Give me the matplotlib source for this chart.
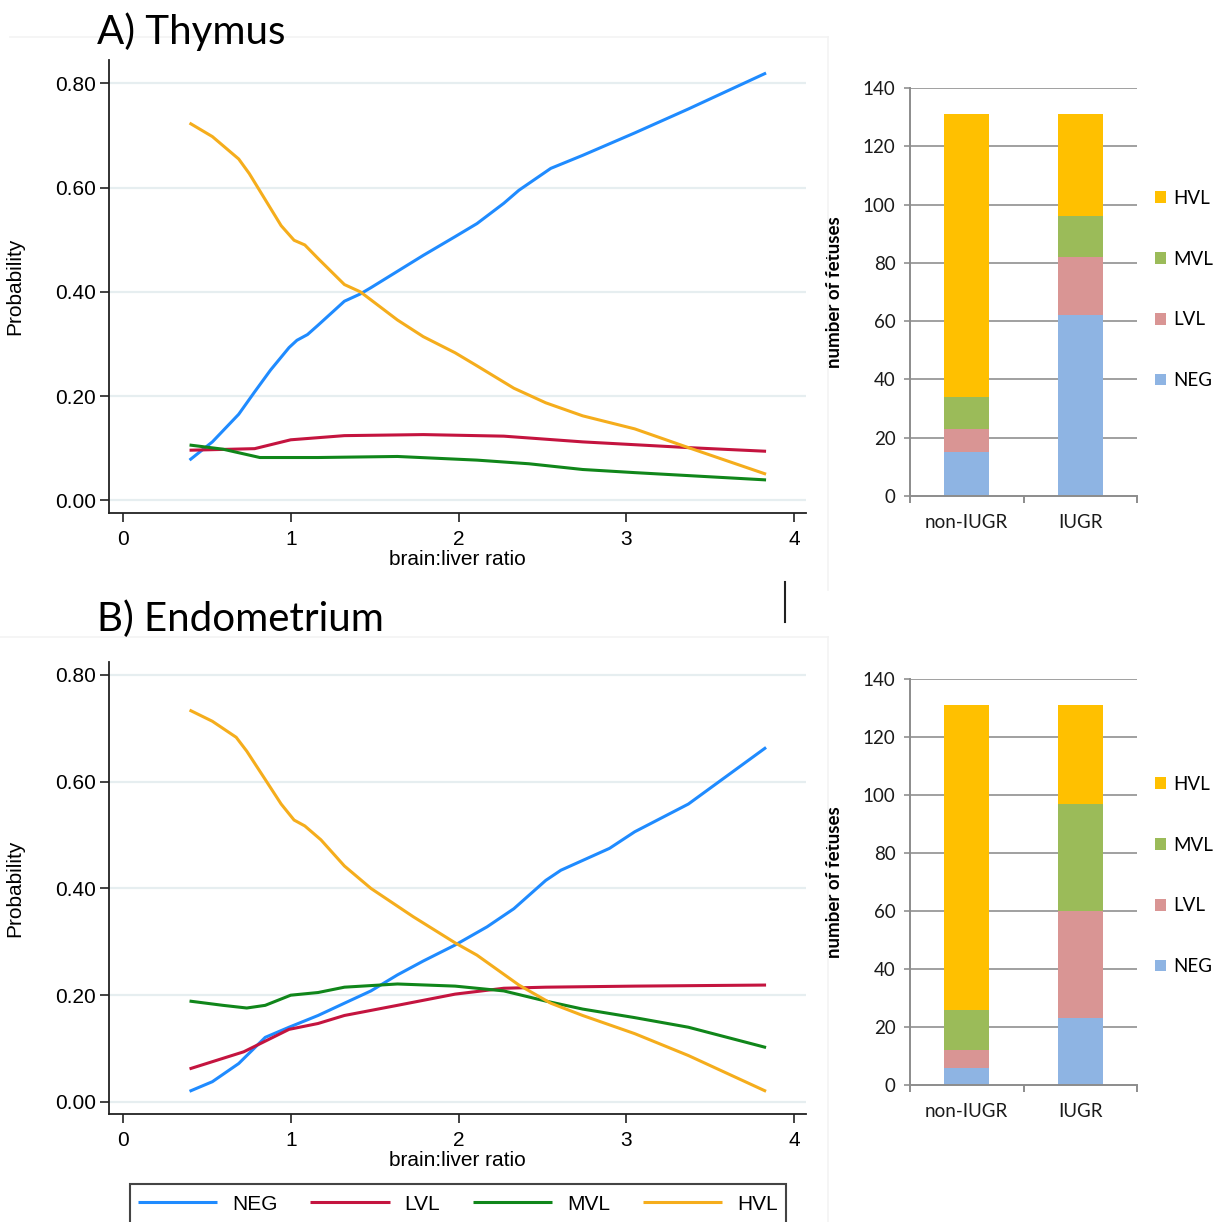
import matplotlib
matplotlib.use("Agg")
import matplotlib.pyplot as plt
from matplotlib import font_manager
from matplotlib.patches import Rectangle
from matplotlib.lines import Line2D

# ---------------- data ----------------
# Thymus predicted probabilities vs brain:liver ratio
thy_neg_x = [0.397, 0.533, 0.69, 0.785, 0.88, 0.99, 1.037, 1.10, 1.163, 1.32, 1.415, 1.478, 1.79, 1.98, 2.11, 2.27, 2.36, 2.55, 2.74, 3.05, 3.37, 3.833]
thy_neg_y = [0.077, 0.112, 0.165, 0.208, 0.25, 0.293, 0.307, 0.318, 0.336, 0.382, 0.396, 0.408, 0.47, 0.506, 0.531, 0.57, 0.595, 0.637, 0.662, 0.705, 0.751, 0.82]
thy_hvl_x = [0.397, 0.533, 0.69, 0.753, 0.848, 0.943, 1.02, 1.084, 1.163, 1.32, 1.415, 1.636, 1.79, 1.98, 2.11, 2.33, 2.52, 2.74, 3.05, 3.37, 3.833]
thy_hvl_y = [0.724, 0.698, 0.655, 0.627, 0.577, 0.527, 0.499, 0.49, 0.464, 0.414, 0.40, 0.346, 0.314, 0.283, 0.258, 0.215, 0.187, 0.162, 0.137, 0.101, 0.05]
thy_lvl_x = [0.397, 0.785, 1.0, 1.32, 1.79, 2.27, 2.74, 3.37, 3.833]
thy_lvl_y = [0.096, 0.099, 0.116, 0.124, 0.126, 0.123, 0.112, 0.101, 0.094]
thy_mvl_x = [0.397, 0.596, 0.816, 1.163, 1.636, 2.11, 2.42, 2.74, 3.05, 3.833]
thy_mvl_y = [0.106, 0.098, 0.082, 0.082, 0.084, 0.077, 0.070, 0.059, 0.053, 0.039]

# Endometrium predicted probabilities vs brain:liver ratio
end_neg_x = [0.397, 0.533, 0.69, 0.848, 0.99, 1.163, 1.32, 1.478, 1.636, 1.79, 1.98, 2.17, 2.33, 2.52, 2.61, 2.90, 3.05, 3.37, 3.833]
end_neg_y = [0.020, 0.038, 0.072, 0.121, 0.140, 0.162, 0.185, 0.208, 0.238, 0.264, 0.294, 0.328, 0.362, 0.415, 0.434, 0.475, 0.506, 0.558, 0.664]
end_hvl_x = [0.397, 0.533, 0.675, 0.738, 0.848, 0.943, 1.02, 1.084, 1.18, 1.32, 1.478, 1.73, 1.98, 2.11, 2.36, 2.55, 2.74, 3.05, 3.37, 3.833]
end_hvl_y = [0.734, 0.713, 0.683, 0.657, 0.604, 0.558, 0.528, 0.517, 0.491, 0.442, 0.40, 0.347, 0.298, 0.275, 0.219, 0.185, 0.162, 0.128, 0.087, 0.020]
end_lvl_x = [0.397, 0.72, 0.99, 1.163, 1.32, 1.636, 1.98, 2.27, 2.52, 3.05, 3.833]
end_lvl_y = [0.062, 0.094, 0.136, 0.147, 0.162, 0.181, 0.202, 0.213, 0.215, 0.217, 0.219]
end_mvl_x = [0.397, 0.596, 0.738, 0.848, 1.0, 1.163, 1.32, 1.636, 1.98, 2.27, 2.52, 2.74, 3.05, 3.37, 3.833]
end_mvl_y = [0.189, 0.181, 0.176, 0.181, 0.20, 0.205, 0.215, 0.221, 0.217, 0.208, 0.189, 0.174, 0.158, 0.140, 0.102]

# Bar chart counts
groups = ["non-IUGR", "IUGR"]
levels = ["NEG", "LVL", "MVL", "HVL"]
thy_counts = {"NEG": [15, 62], "LVL": [8, 20], "MVL": [11, 14], "HVL": [97, 35]}
end_counts = {"NEG": [6, 23], "LVL": [6, 37], "MVL": [14, 37], "HVL": [105, 34]}

yticks_prob = [0.0, 0.2, 0.4, 0.6, 0.8]
ytick_prob_labels = ["0.00", "0.20", "0.40", "0.60", "0.80"]
xticks_ratio = [0, 1, 2, 3, 4]
yticks_count = [0, 20, 40, 60, 80, 100, 120, 140]

# ---------------- styles ----------------
line_colors = {"NEG": "#1f8bff", "LVL": "#c4143f", "MVL": "#10861a", "HVL": "#f5ad1c"}
bar_colors = {"NEG": "#8eb4e3", "LVL": "#d99594", "MVL": "#9bbb59", "HVL": "#ffc000"}

avail = {f.name for f in font_manager.fontManager.ttflist}
narrow = "Liberation Sans Narrow" if "Liberation Sans Narrow" in avail else "Liberation Sans"
sans = "Liberation Sans" if "Liberation Sans" in avail else "DejaVu Sans"
cal = "Lato" if "Lato" in avail else "DejaVu Sans"

W, H = 1213, 1222
fig = plt.figure(figsize=(W / 100, H / 100), dpi=100)


def box(l, t, r, b):
    return [l / W, 1 - b / H, (r - l) / W, (b - t) / H]


def line_panel(rect, data, ylim):
    ax = fig.add_axes(rect)
    ax.set_xlim(-0.083, 4.071)
    ax.set_ylim(*ylim)
    for y in yticks_prob:
        ax.axhline(y, color="#e6eef0", lw=1.6, zorder=0)
    for key in ["NEG", "LVL", "MVL", "HVL"]:
        xs, ys = data[key]
        ax.plot(xs, ys, color=line_colors[key], lw=2.2, label=key, solid_capstyle="butt",
                solid_joinstyle="round")
    for s in ["top", "right"]:
        ax.spines[s].set_visible(False)
    for s in ["left", "bottom"]:
        ax.spines[s].set_linewidth(1.3)
        ax.spines[s].set_color("#222222")
    ax.set_yticks(yticks_prob)
    ax.set_yticklabels(ytick_prob_labels, fontfamily=narrow, fontsize=15)
    ax.set_xticks(xticks_ratio)
    ax.set_xticklabels([str(v) for v in xticks_ratio], fontfamily=narrow, fontsize=15)
    ax.tick_params(axis="y", direction="out", length=6.5, width=1.2, color="#222222", pad=3)
    ax.tick_params(axis="x", direction="out", length=6.5, width=1.2, color="#222222", pad=6)
    ax.set_xlabel("brain:liver ratio", fontfamily=narrow, fontsize=15)
    ax.xaxis.set_label_coords(0.5, -0.082)
    ax.set_ylabel("Probability", fontfamily=sans, fontsize=15)
    ax.yaxis.set_label_coords(-0.122, 0.5)
    return ax


def bar_panel(rect, counts, leg_top):
    ax = fig.add_axes(rect)
    ax.set_xlim(-0.5, 1.5)
    ax.set_ylim(0, 140)
    for y in yticks_count[1:]:
        ax.axhline(y, color="#a0a0a0", lw=1.4, zorder=0)
    bottoms = [0, 0]
    handles = []
    for key in levels:
        vals = counts[key]
        b = ax.bar([0, 1], vals, width=0.4, bottom=bottoms, color=bar_colors[key],
                   label=key, zorder=2, linewidth=0)
        handles.append(b)
        bottoms = [bottoms[i] + vals[i] for i in range(2)]
    for s in ["top", "right"]:
        ax.spines[s].set_visible(False)
    for s in ["left", "bottom"]:
        ax.spines[s].set_color("#8c8c8c")
        ax.spines[s].set_linewidth(1.4)
    ax.set_yticks(yticks_count)
    ax.set_yticklabels([str(v) for v in yticks_count], fontfamily=cal, fontsize=13.5, color="#1a1a1a")
    ax.tick_params(axis="y", direction="out", length=4.5, width=1.4, color="#a0a0a0", pad=6)
    ax.set_xticks([-0.5, 0.5, 1.5])
    ax.set_xticklabels(["", "", ""])
    ax.tick_params(axis="x", which="major", direction="out", length=5, width=1.4, color="#8c8c8c")
    ax.set_xticks([0, 1], minor=True)
    ax.set_xticklabels(groups, minor=True, fontfamily=cal, fontsize=13.5, color="#1a1a1a")
    ax.tick_params(axis="x", which="minor", length=0, pad=13)
    ax.set_ylabel("number of fetuses", fontfamily=cal, fontsize=13.5, fontweight="bold")
    ax.yaxis.set_label_coords(-0.294, 0.5)
    fig.legend(handles[::-1], levels[::-1], loc="upper left",
               bbox_to_anchor=(1155 / W, 1 - leg_top / H), frameon=False,
               prop={"family": cal, "size": 13.5}, handlelength=0.6, handleheight=0.6,
               handletextpad=0.35, labelspacing=2.33, borderpad=0, borderaxespad=0)
    return ax


thy = {"NEG": (thy_neg_x, thy_neg_y), "LVL": (thy_lvl_x, thy_lvl_y),
       "MVL": (thy_mvl_x, thy_mvl_y), "HVL": (thy_hvl_x, thy_hvl_y)}
endo = {"NEG": (end_neg_x, end_neg_y), "LVL": (end_lvl_x, end_lvl_y),
        "MVL": (end_mvl_x, end_mvl_y), "HVL": (end_hvl_x, end_hvl_y)}

axA = line_panel(box(109, 60, 806, 513), thy, (-0.0245, 0.845))
axB = line_panel(box(109, 662, 806, 1114), endo, (-0.0225, 0.824))

bar_panel(box(910, 88, 1137, 496), thy_counts, 190)
bar_panel(box(910, 679, 1137, 1085), end_counts, 776)

# panel titles
fig.text(97 / W, 1 - 44 / H, "A) Thymus", fontfamily=cal, fontsize=29, ha="left", va="baseline")
fig.text(97 / W, 1 - 631 / H, "B) Endometrium", fontfamily=cal, fontsize=29, ha="left", va="baseline")

# faint panel frames
fig.add_artist(Line2D([10 / W, 828 / W], [1 - 37 / H, 1 - 37 / H], color="#f3f3f3", lw=1.2))
fig.add_artist(Line2D([828 / W, 828 / W], [1 - 37 / H, 1 - 590 / H], color="#f3f3f3", lw=1.2))
fig.add_artist(Line2D([0 / W, 828 / W], [1 - 637 / H, 1 - 637 / H], color="#f3f3f3", lw=1.2))
fig.add_artist(Line2D([828 / W, 828 / W], [1 - 637 / H, 1 - 1222 / H], color="#f3f3f3", lw=1.2))
# stray vertical mark
fig.add_artist(Line2D([785 / W, 785 / W], [1 - 582 / H, 1 - 622 / H], color="#222222", lw=1.5))

# bottom legend (box cut off at the figure edge)
fig.add_artist(Rectangle((130 / W, 1 - 1240 / H), (786 - 130) / W, (1240 - 1184) / H,
                         transform=fig.transFigure, fill=False, edgecolor="#444444", lw=1.5))
h, l = axB.get_legend_handles_labels()
fig.legend(h, l, loc="center left", bbox_to_anchor=(138 / W, 1 - 1204 / H), ncol=4,
           frameon=False, prop={"family": narrow, "size": 15}, handlelength=3.8,
           handletextpad=0.7, columnspacing=1.6, borderpad=0, borderaxespad=0)

fig.savefig("out.png", dpi=100)
